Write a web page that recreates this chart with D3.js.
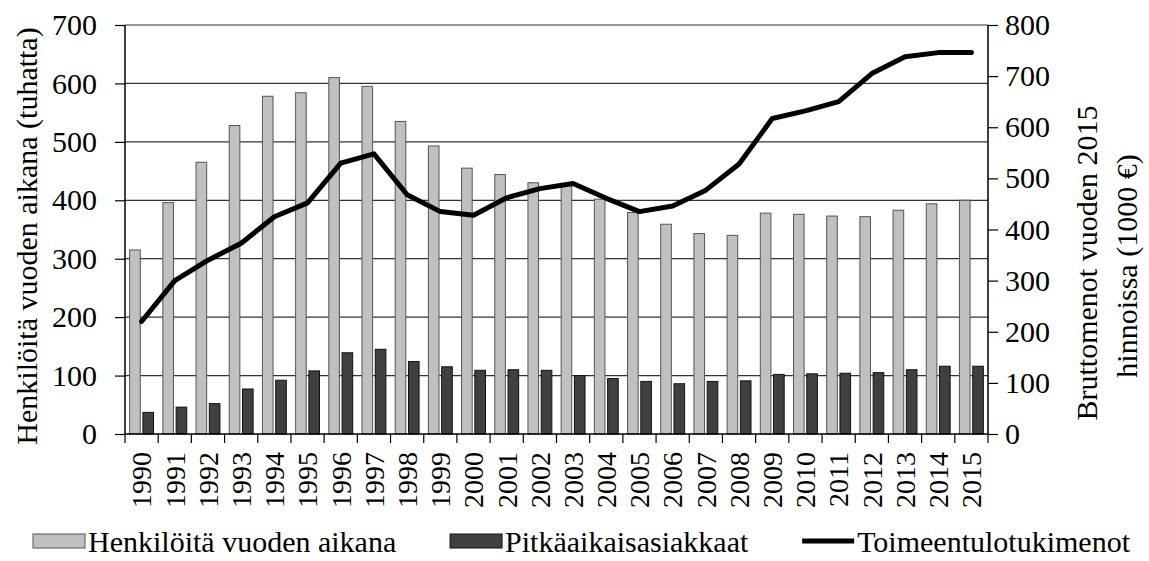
<!DOCTYPE html>
<html>
<head>
<meta charset="utf-8">
<script src="https://cdn.jsdelivr.net/npm/d3@7"></script>
<style>
  body { margin: 0; background: #fff; }
  svg text { font-family: "Times New Roman", "Liberation Serif", "DejaVu Serif", serif !important; fill: #000; }
</style>
</head>
<body>
<svg id="chart" width="1149" height="561"></svg>
<script>
// data
var years = ["1990","1991","1992","1993","1994","1995","1996","1997","1998","1999","2000","2001","2002",
             "2003","2004","2005","2006","2007","2008","2009","2010","2011","2012","2013","2014","2015"];
var henkiloita = [315, 396, 465, 528, 578, 584, 610, 595, 535, 493, 455, 444, 430,
                  426, 402, 379, 359, 343, 340, 378, 376, 373, 372, 383, 394, 400];
var pitkaaikaiset = [37, 46, 52, 77, 92, 108, 139, 145, 124, 115, 109, 110, 109,
                     100, 95, 90, 86, 90, 91, 102, 103, 104, 105, 110, 116, 116];
var menot = [220, 300, 340, 373, 425, 452, 530, 548, 468, 435, 428, 462, 480,
             490, 461, 435, 446, 477, 528, 617, 632, 650, 705, 738, 746, 746];
var leftTicks = [0, 100, 200, 300, 400, 500, 600, 700];
var rightTicks = [0, 100, 200, 300, 400, 500, 600, 700, 800];
var legendNames = ["Henkilöitä vuoden aikana", "Pitkäaikaisasiakkaat", "Toimeentulotukimenot"];

var svg = d3.select("#chart").attr("font-family", "Liberation Serif");
var plotL = 125, plotR = 988, plotT = 25, plotB = 434;

var x = d3.scaleBand().domain(years).range([plotL, plotR]);
var inner = d3.scaleBand().domain(["a", "b"]).range([0, x.bandwidth()])
  .paddingInner(0.2).paddingOuter(0.35);
var yL = d3.scaleLinear().domain([0, 700]).range([plotB, plotT]);
var yR = d3.scaleLinear().domain([0, 800]).range([plotB, plotT]);

// gridlines
svg.append("g").selectAll("line")
  .data(leftTicks.filter(function(d){ return d > 0; }))
  .enter().append("line")
  .attr("x1", plotL).attr("x2", plotR)
  .attr("y1", function(d){ return yL(d); }).attr("y2", function(d){ return yL(d); })
  .style("stroke", "#333").style("stroke-width", "1.2px");

// bars
svg.append("g").selectAll("rect")
  .data(henkiloita).enter().append("rect")
  .attr("x", function(d, i){ return x(years[i]) + inner("a"); })
  .attr("y", function(d){ return yL(d); })
  .attr("width", inner.bandwidth())
  .attr("height", function(d){ return plotB - yL(d); })
  .style("fill", "#c0c0c0").style("stroke", "#555").style("stroke-width", "1px");

svg.append("g").selectAll("rect")
  .data(pitkaaikaiset).enter().append("rect")
  .attr("x", function(d, i){ return x(years[i]) + inner("b"); })
  .attr("y", function(d){ return yL(d); })
  .attr("width", inner.bandwidth())
  .attr("height", function(d){ return plotB - yL(d); })
  .style("fill", "#404040").style("stroke", "#111").style("stroke-width", "1px");

// line
var line = d3.line()
  .x(function(d, i){ return x(years[i]) + x.bandwidth() / 2; })
  .y(function(d){ return yR(d); });
svg.append("path")
  .datum(menot)
  .attr("d", line)
  .style("fill", "none").style("stroke", "#000").style("stroke-width", "5px")
  .style("stroke-linejoin", "round").style("stroke-linecap", "round");

// axes
var axL = svg.append("g").attr("transform", "translate(" + plotL + ",0)")
  .call(d3.axisLeft(yL).tickValues(leftTicks).tickSize(10).tickPadding(18));
var axR = svg.append("g").attr("transform", "translate(" + plotR + ",0)")
  .call(d3.axisRight(yR).tickValues(rightTicks).tickSize(10).tickPadding(7));
[axL, axR].forEach(function(ax){
  ax.attr("font-family", null).attr("font-size", null);
  ax.select(".domain").attr("d", "M0," + plotT + "V" + plotB).style("stroke", "#000").style("stroke-width", "1.5px");
  ax.selectAll(".tick line").style("stroke", "#000").style("stroke-width", "1.2px");
  ax.selectAll(".tick text").style("font-size", "30px");
});

// x axis
var axX = svg.append("g").attr("transform", "translate(0," + plotB + ")");
axX.append("line").attr("x1", plotL).attr("x2", plotR)
  .style("stroke", "#000").style("stroke-width", "1.5px");
axX.selectAll("line.sep")
  .data(years.concat(["end"])).enter().append("line")
  .attr("class", "sep")
  .attr("x1", function(d, i){ return plotL + i * x.step(); })
  .attr("x2", function(d, i){ return plotL + i * x.step(); })
  .attr("y1", 0).attr("y2", 9)
  .style("stroke", "#000").style("stroke-width", "1.2px");
axX.selectAll("text")
  .data(years).enter().append("text")
  .attr("transform", function(d){
    return "translate(" + (x(d) + x.bandwidth() / 2) + ",18) rotate(-90)";
  })
  .attr("text-anchor", "end")
  .attr("dy", "0.35em")
  .style("font-size", "28px")
  .text(function(d){ return d; });

// axis titles
svg.append("text")
  .attr("transform", "translate(26,236) rotate(-90)")
  .attr("text-anchor", "middle").attr("dy", "0.35em")
  .style("font-size", "30px")
  .text("Henkilöitä vuoden aikana (tuhatta)");
svg.append("text")
  .attr("transform", "translate(1086,263) rotate(-90)")
  .attr("text-anchor", "middle").attr("dy", "0.35em")
  .style("font-size", "30px")
  .text("Bruttomenot vuoden 2015");
svg.append("text")
  .attr("transform", "translate(1126,266) rotate(-90)")
  .attr("text-anchor", "middle").attr("dy", "0.35em")
  .style("font-size", "30px")
  .text("hinnoissa (1000 €)");

// legend, spread between x=33 and x=1130
var lg = svg.append("g").attr("transform", "translate(33,541)");
var items = lg.selectAll("g").data(legendNames).enter().append("g");
items.each(function(d, i){
  var g = d3.select(this);
  if (i < 2) {
    g.append("rect").attr("x", 0).attr("y", -7).attr("width", 52).attr("height", 14)
      .style("fill", i == 0 ? "#c0c0c0" : "#404040")
      .style("stroke", i == 0 ? "#555" : "#111");
  } else {
    g.append("line").attr("x1", 0).attr("x2", 52)
      .style("stroke", "#000").style("stroke-width", "5px");
  }
  g.append("text").attr("x", 55).attr("dy", "0.35em")
    .style("font-size", "30px").text(d);
});
var widths = [];
items.each(function(){ widths.push(55 + d3.select(this).select("text").node().getComputedTextLength()); });
var gap = Math.max(10, (1097 - d3.sum(widths)) / 2);
var cursor = 0;
items.each(function(d, i){
  d3.select(this).attr("transform", "translate(" + cursor + ",0)");
  cursor += widths[i] + gap;
});
</script>
</body>
</html>
